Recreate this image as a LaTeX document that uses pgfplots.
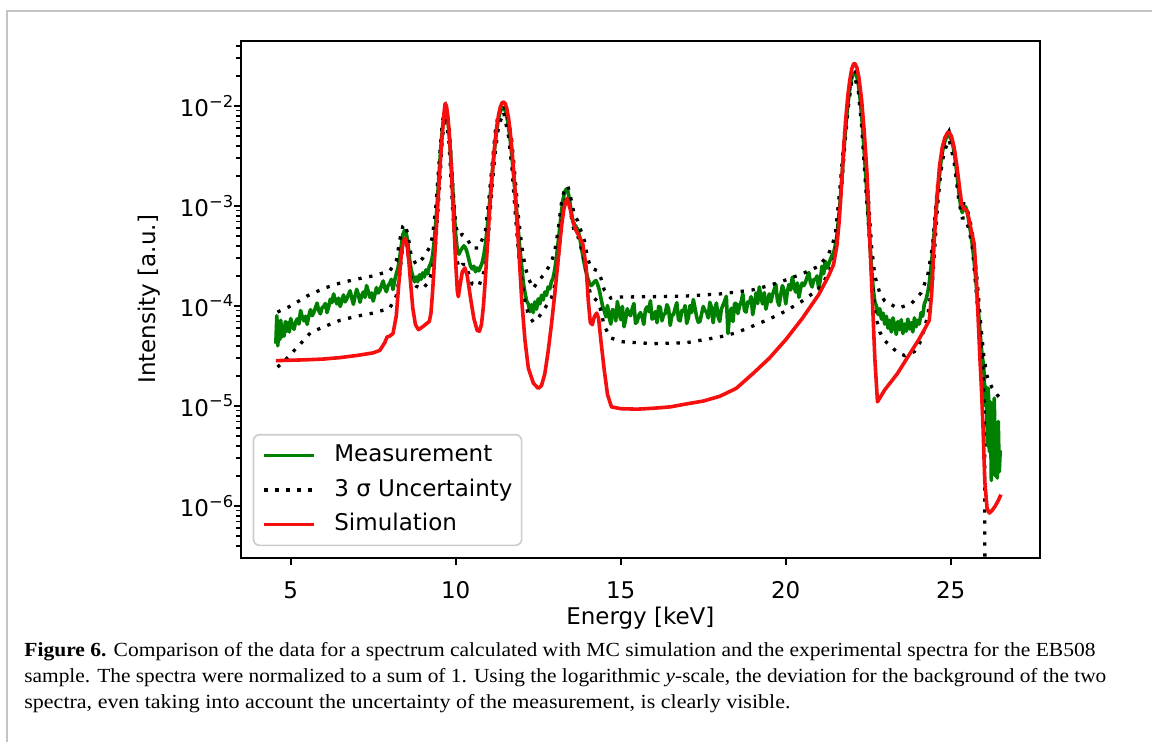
\documentclass[border=0pt]{standalone}
\usepackage{pgfplots}
\pgfplotsset{compat=1.18}
\usepackage{fontspec}
\usepackage{graphicx}
\setmainfont{DejaVu Sans}
\newfontfamily\capfont{Liberation Serif}
\definecolor{mgreen}{RGB}{0,128,0}
\definecolor{mred}{RGB}{245,15,15}
\definecolor{lgray}{RGB}{204,204,204}
\definecolor{fgray}{RGB}{195,195,195}
\newcommand{\ee}[1]{10\raisebox{0.42em}{\fontsize{8.2}{8.2}\selectfont\char"2212\relax #1}}
\begin{document}
\begin{tikzpicture}
\path[use as bounding box] (-120.35pt,-92pt) rectangle (455.65pt,279pt);
\draw[fgray, line width=1pt] (-116.7pt,-92pt) -- (-116.7pt,273.65pt) -- (455.65pt,273.65pt);
\begin{axis}[
  at={(0pt,0pt)}, anchor=south west,
  scale only axis, width=399.65pt, height=258.65pt,
  font=\fontsize{11.5}{13.8}\selectfont,
  ymode=log,
  xmin=3.485, xmax=27.705, ymin=3.02e-7, ymax=4.5e-2,
  xtick={5,10,15,20,25}, xticklabels={5,10,15,20,25},
  ytick={1e-6,1e-5,1e-4,1e-3,1e-2},
  yticklabels={\ee{6},\ee{5},\ee{4},\ee{3},\ee{2}},
  minor ytick={3e-7,4e-7,5e-7,6e-7,7e-7,8e-7,9e-7,2e-6,3e-6,4e-6,5e-6,6e-6,7e-6,8e-6,9e-6,2e-5,3e-5,4e-5,5e-5,6e-5,7e-5,8e-5,9e-5,2e-4,3e-4,4e-4,5e-4,6e-4,7e-4,8e-4,9e-4,2e-3,3e-3,4e-3,5e-3,6e-3,7e-3,8e-3,9e-3,2e-2,3e-2,4e-2},
  tick pos=left, tick align=outside,
  major tick length=3.5pt, minor tick length=2.2pt,
  every tick/.style={black, line width=0.9pt},
  axis line style={line width=0.9pt},
  xticklabel style={anchor=base, inner sep=0pt, yshift=-16.85pt},
  yticklabel style={anchor=east, inner sep=0pt},
  every axis x label/.style={at={(rel axis cs:0.5,0)}, yshift=-33.4pt, anchor=base},
  every axis y label/.style={at={(rel axis cs:0,0.5)}, xshift=-42.35pt, rotate=90, anchor=base},
  xlabel={Energy [keV]}, ylabel={Intensity [a.u.]},
  legend cell align=left,
  legend image code/.code={\draw[#1] (0pt,0pt) -- (25pt,0pt);},
  legend style={at={(rel axis cs:0.015,0.023)}, anchor=south west,
    draw=lgray, line width=0.8pt, rounded corners=3pt, fill=white, fill opacity=0.8, text opacity=1, draw opacity=1,
    inner xsep=4.5pt, inner ysep=5pt, column sep=9.15pt, row sep=6.6pt,
    nodes={inner sep=0pt, text height=8.4pt, text depth=2.3pt},
    font=\fontsize{11.5}{13.8}\selectfont},
]
\addplot[mgreen, line width=1.8pt, line join=round] coordinates {
(4.55,4.2e-5) (4.58,8.0e-5) (4.61,4.0e-5) (4.64,6.6e-5) (4.67,4.6e-5) (4.70,7.2e-5) (4.73,4.9e-5) (4.76,6.3e-5) (4.80,5.0e-5) (4.84,7.0e-5) (4.88,5.6e-5) (4.92,6.8e-5) (4.96,5.5e-5)
(5.0,7.5e-5) (5.05,6.3e-5) (5.1,5.85e-5) (5.15,6.9e-5) (5.2,7.45e-5) (5.25,6.6e-5) (5.3,9.0e-5) (5.35,7.8e-5) (5.4,7.1e-5) (5.45,7.9e-5) (5.5,6.55e-5) (5.55,8.0e-5) (5.6,9.2e-5) (5.65,8.0e-5) (5.7,8.6e-5) (5.75,9.6e-5) (5.8,1.07e-4) (5.85,9.0e-5) (5.9,8.35e-5) (5.95,9.6e-5) (6.0,9.9e-5) (6.05,1.06e-4) (6.1,8.6e-5) (6.15,9.8e-5) (6.2,1.17e-4) (6.25,1.08e-4) (6.3,1.32e-4) (6.35,1.15e-4) (6.4,1.05e-4) (6.45,1.2e-4) (6.5,9.9e-5) (6.55,1.12e-4) (6.6,1.29e-4) (6.65,1.1e-4) (6.7,1.18e-4) (6.75,1.3e-4) (6.8,1.42e-4) (6.85,1.2e-4) (6.9,1.04e-4) (6.95,1.25e-4) (7.0,1.47e-4) (7.05,1.3e-4) (7.1,1.09e-4) (7.15,1.27e-4) (7.2,1.38e-4) (7.25,1.22e-4) (7.3,1.6e-4) (7.35,1.4e-4) (7.4,1.22e-4) (7.45,1.35e-4) (7.5,1.12e-4) (7.55,1.3e-4) (7.6,1.53e-4) (7.65,1.35e-4) (7.7,1.43e-4) (7.75,1.6e-4) (7.8,1.78e-4) (7.85,1.52e-4) (7.9,1.39e-4) (7.95,1.6e-4) (8.0,1.68e-4) (8.05,1.85e-4) (8.1,1.46e-4) (8.15,1.8e-4) (8.2,2.1e-4)
(8.25,2.4e-4) (8.3,3.0e-4) (8.35,4.0e-4) (8.4,5.2e-4) (8.45,5.7e-4) (8.5,5.4e-4) (8.55,4.3e-4) (8.6,3.0e-4) (8.65,2.3e-4) (8.7,2.0e-4) (8.75,1.75e-4) (8.8,1.95e-4) (8.85,1.75e-4) (8.9,2.05e-4) (8.95,1.85e-4) (9.0,2.15e-4) (9.05,1.95e-4) (9.1,2.3e-4) (9.15,2.1e-4) (9.2,2.5e-4) (9.25,2.7e-4) (9.3,3.2e-4) (9.35,4.5e-4) (9.4,7.0e-4) (9.45,1.2e-3) (9.5,2.2e-3) (9.55,3.9e-3) (9.6,6.0e-3) (9.65,8.3e-3) (9.7,9.0e-3) (9.75,7.8e-3) (9.8,5.4e-3) (9.85,3.2e-3) (9.9,1.7e-3) (9.95,9.0e-4) (10.0,5.2e-4) (10.05,3.6e-4) (10.1,3.3e-4) (10.15,3.6e-4) (10.2,3.8e-4) (10.25,4.0e-4) (10.3,3.8e-4) (10.35,3.4e-4) (10.4,2.9e-4) (10.45,2.5e-4) (10.5,2.35e-4) (10.55,2.5e-4) (10.6,2.2e-4) (10.65,2.4e-4) (10.7,2.25e-4) (10.75,2.45e-4) (10.8,2.7e-4) (10.85,3.2e-4) (10.9,4.1e-4) (10.95,5.8e-4) (11.0,8.5e-4) (11.05,1.3e-3) (11.1,2.0e-3) (11.15,3.0e-3) (11.2,4.4e-3) (11.25,6.0e-3) (11.3,7.6e-3) (11.35,8.8e-3) (11.4,9.5e-3) (11.45,9.6e-3) (11.5,9.0e-3) (11.55,7.8e-3) (11.6,6.2e-3) (11.65,4.6e-3) (11.7,3.2e-3) (11.75,2.1e-3) (11.8,1.35e-3) (11.85,8.5e-4) (11.9,5.5e-4) (11.95,3.6e-4) (12.0,2.5e-4) (12.05,1.7e-4) (12.1,1.35e-4) (12.15,1.12e-4) (12.2,1.05e-4) (12.25,8.8e-5) (12.3,1.03e-4) (12.35,8.6e-5) (12.4,1.1e-4) (12.45,9.3e-5) (12.5,1.18e-4) (12.55,1.05e-4) (12.6,1.28e-4) (12.65,1.15e-4) (12.7,1.38e-4) (12.75,1.28e-4) (12.8,1.55e-4) (12.85,1.48e-4) (12.9,1.75e-4) (12.95,1.9e-4) (13.0,2.3e-4) (13.05,3.0e-4) (13.1,4.2e-4) (13.15,6.0e-4) (13.2,8.5e-4) (13.25,1.15e-3) (13.3,1.38e-3) (13.35,1.48e-3) (13.4,1.4e-3) (13.45,1.15e-3) (13.5,8.8e-4) (13.55,7.2e-4) (13.6,6.5e-4) (13.65,6.2e-4) (13.7,5.8e-4) (13.75,5.0e-4) (13.8,4.0e-4) (13.85,3.2e-4) (13.9,2.6e-4) (13.95,2.2e-4) (14.0,1.9e-4) (14.05,1.7e-4) (14.1,1.6e-4) (14.15,1.65e-4) (14.2,1.75e-4) (14.25,1.8e-4) (14.3,1.65e-4) (14.35,1.45e-4) (14.4,1.2e-4) (14.45,1.0e-4) (14.5,9.0e-5) (14.55,7.8e-5)
(14.6,1.01e-4) (14.65,7.7e-5) (14.7,6.6e-5) (14.75,9.2e-5) (14.8,9.0e-5) (14.85,7.1e-5) (14.9,1.11e-4) (14.95,8.8e-5) (15.0,7.3e-5) (15.05,9.9e-5) (15.1,6.2e-5) (15.15,7.4e-5) (15.2,9.4e-5) (15.25,8.4e-5) (15.3,8.0e-5) (15.35,9.4e-5) (15.4,1.06e-4) (15.45,6.7e-5) (15.5,7.0e-5) (15.55,8.1e-5) (15.6,8.6e-5) (15.65,7.7e-5) (15.7,6.55e-5) (15.75,9.2e-5) (15.8,9.8e-5) (15.85,8.8e-5) (15.9,1.13e-4) (15.95,7.4e-5) (16.0,7.6e-5) (16.05,8.8e-5) (16.1,6.8e-5) (16.15,9.9e-5) (16.2,9.7e-5) (16.25,7.1e-5) (16.3,8.2e-5) (16.35,8.4e-5) (16.4,1.03e-4) (16.45,9.4e-5) (16.5,6.4e-5) (16.55,8.1e-5)
(16.6,8.2e-5) (16.65,9.5e-5) (16.7,1.08e-4) (16.75,7.3e-5) (16.8,7.1e-5) (16.85,9.0e-5) (16.9,8.8e-5) (16.95,1.01e-4) (17.0,6.7e-5) (17.05,7.6e-5) (17.1,1.01e-4) (17.15,8.6e-5) (17.2,1.16e-4) (17.25,9.6e-5) (17.3,7.8e-5) (17.35,6.9e-5) (17.4,7.0e-5) (17.45,8.3e-5) (17.5,9.9e-5) (17.55,9.0e-5)
(17.6,8.7e-5) (17.65,7.6e-5) (17.7,1.09e-4) (17.75,9.7e-5) (17.8,6.8e-5) (17.85,9.1e-5) (17.9,1.07e-4) (17.95,7.8e-5) (18.0,7.0e-5) (18.05,9.3e-5)
(18.1,1.02e-4) (18.15,1.12e-4) (18.2,1.25e-4) (18.25,5.3e-5) (18.3,8.3e-5) (18.35,9.5e-5) (18.4,7.0e-5) (18.45,1.06e-4) (18.5,1.06e-4) (18.55,8.4e-5)
(18.6,1.0e-4) (18.65,1.1e-4) (18.7,1.32e-4) (18.75,9.0e-5) (18.8,8.7e-5) (18.85,1.1e-4) (18.9,1.07e-4) (18.95,1.24e-4) (19.0,8.2e-5) (19.05,1.02e-4)
(19.1,1.35e-4) (19.15,1.06e-4) (19.2,1.55e-4) (19.25,1.21e-4) (19.3,1.05e-4) (19.35,1.36e-4) (19.4,9.3e-5) (19.45,1.12e-4) (19.5,1.32e-4) (19.55,1.1e-4)
(19.6,1.3e-4) (19.65,1.45e-4) (19.7,1.64e-4) (19.75,1.13e-4) (19.8,1.01e-4) (19.85,1.3e-4) (19.9,1.6e-4) (19.95,1.42e-4) (20.0,1.05e-4) (20.05,1.4e-4)
(20.1,1.64e-4) (20.15,1.45e-4) (20.2,1.94e-4) (20.25,1.6e-4) (20.3,1.38e-4) (20.35,1.7e-4) (20.4,1.22e-4) (20.45,1.5e-4) (20.5,1.7e-4) (20.55,1.6e-4)
(20.6,1.73e-4) (20.65,1.95e-4) (20.7,2.16e-4) (20.75,1.7e-4) (20.8,1.55e-4) (20.85,1.85e-4) (20.9,1.84e-4) (20.95,2.0e-4) (21.0,1.48e-4) (21.05,1.85e-4)
(21.1,2.5e-4) (21.15,2.1e-4) (21.2,2.8e-4) (21.25,2.4e-4) (21.3,2.6e-4) (21.35,2.9e-4)
(21.4,3.2e-4) (21.45,3.4e-4) (21.5,4.0e-4) (21.55,5.0e-4) (21.6,7.5e-4) (21.65,1.1e-3) (21.7,1.9e-3) (21.75,3.2e-3) (21.8,5.2e-3) (21.85,8.0e-3) (21.9,1.15e-2) (21.95,1.55e-2) (22.0,1.9e-2) (22.05,2.1e-2) (22.1,2.15e-2) (22.15,2.0e-2) (22.2,1.65e-2) (22.25,1.2e-2) (22.3,8.0e-3) (22.35,4.8e-3) (22.4,2.7e-3) (22.45,1.5e-3) (22.5,8.0e-4) (22.55,4.3e-4) (22.6,2.4e-4) (22.65,1.5e-4) (22.7,1.1e-4)
(22.75,1.0e-4) (22.8,8.2e-5) (22.85,9.4e-5) (22.9,7.4e-5) (22.95,8.5e-5) (23.0,6.6e-5) (23.05,7.9e-5) (23.1,6.0e-5) (23.15,7.2e-5) (23.2,5.5e-5) (23.25,7.6e-5) (23.3,6.4e-5) (23.35,5.2e-5) (23.4,7.0e-5) (23.45,5.8e-5) (23.5,7.3e-5) (23.55,5.3e-5) (23.6,6.6e-5) (23.65,5.6e-5) (23.7,7.4e-5) (23.75,5.9e-5) (23.8,6.8e-5) (23.85,5.5e-5) (23.9,7.6e-5) (23.95,6.2e-5) (24.0,7.2e-5) (24.05,6.6e-5) (24.1,8.6e-5) (24.15,7.9e-5) (24.2,1.05e-4) (24.25,1.15e-4) (24.3,1.35e-4) (24.35,1.7e-4) (24.4,2.4e-4) (24.45,3.5e-4) (24.5,5.5e-4) (24.55,8.5e-4) (24.6,1.3e-3) (24.65,1.9e-3) (24.7,2.7e-3) (24.75,3.5e-3) (24.8,4.2e-3) (24.85,4.7e-3) (24.9,5.0e-3) (24.95,5.0e-3) (25.0,4.8e-3) (25.05,4.3e-3) (25.1,3.5e-3) (25.15,2.7e-3) (25.2,1.9e-3) (25.25,1.35e-3) (25.3,1.0e-3) (25.35,8.6e-4) (25.4,9.5e-4) (25.45,9.8e-4) (25.5,8.8e-4) (25.55,7.0e-4) (25.6,5.5e-4) (25.65,4.2e-4) (25.7,3.0e-4) (25.75,2.0e-4) (25.8,1.3e-4) (25.85,8.0e-5) (25.9,5.0e-5) (25.95,3.2e-5) (26.0,2.5e-5) (26.05,1.0e-5) (26.08,1.55e-5) (26.11,4.0e-6) (26.14,1.5e-5) (26.17,3.5e-6) (26.2,1.1e-5) (26.23,1.8e-6) (26.26,8.0e-6) (26.29,3.0e-6) (26.32,1.2e-5) (26.35,2.0e-6) (26.38,6.5e-6) (26.41,1.9e-6) (26.44,7.0e-6) (26.47,2.2e-6) (26.5,3.6e-6)
};
\addlegendentry{Measurement}
\addplot[black, line width=1.65pt, dash pattern=on 1.65pt off 3.85pt] coordinates {
(4.6,8.7e-5) (5.0,1.0e-4) (5.5,1.26e-4) (6.0,1.5e-4) (6.5,1.7e-4) (7.0,1.86e-4) (7.5,2.0e-4) (8.0,2.24e-4) (8.2,2.8e-4) (8.3,4.5e-4) (8.4,6.3e-4) (8.46,6.6e-4) (8.55,5.2e-4) (8.65,3.2e-4) (8.8,2.6e-4) (9.0,3.0e-4) (9.2,3.8e-4) (9.3,5.0e-4) (9.4,1.0e-3) (9.5,2.8e-3) (9.6,7.1e-3) (9.7,9.5e-3) (9.8,6.3e-3) (9.9,1.8e-3) (10.0,6.3e-4) (10.1,5.0e-4) (10.2,5.2e-4) (10.3,5.0e-4) (10.5,3.8e-4) (10.7,3.8e-4) (10.9,5.6e-4) (11.0,1.12e-3) (11.1,2.5e-3) (11.2,5.6e-3) (11.3,8.6e-3) (11.45,1.05e-2) (11.6,7.2e-3) (11.7,4.5e-3) (11.8,1.9e-3) (11.9,7.9e-4) (12.0,4.0e-4) (12.1,2.5e-4) (12.2,1.9e-4) (12.35,1.5e-4) (12.5,1.78e-4) (12.7,2.1e-4) (12.9,2.75e-4) (13.0,3.5e-4) (13.1,5.6e-4) (13.2,1.05e-3) (13.3,1.5e-3) (13.4,1.58e-3) (13.5,1.15e-3) (13.6,8.0e-4) (13.7,7.1e-4) (13.8,5.6e-4) (13.9,4.5e-4) (14.0,3.0e-4) (14.1,2.4e-4) (14.3,2.25e-4) (14.4,1.9e-4) (14.5,1.45e-4) (14.7,1.2e-4) (15.0,1.23e-4) (16.0,1.24e-4) (17.0,1.26e-4) (17.5,1.29e-4) (18.0,1.32e-4) (18.5,1.38e-4) (19.0,1.45e-4) (19.5,1.6e-4) (20.0,1.82e-4) (20.5,2.1e-4) (21.0,2.5e-4) (21.3,3.3e-4) (21.5,5.0e-4) (21.65,1.6e-3) (21.8,6.3e-3) (21.9,1.3e-2) (22.0,2.1e-2) (22.1,2.3e-2) (22.2,1.8e-2) (22.3,9.5e-3) (22.4,3.5e-3) (22.5,1.26e-3) (22.6,4.0e-4) (22.7,2.0e-4) (22.85,1.35e-4) (23.0,1.12e-4) (23.4,9.5e-5) (23.8,1.05e-4) (24.1,1.35e-4) (24.3,2.0e-4) (24.45,4.0e-4) (24.6,1.6e-3) (24.7,3.0e-3) (24.8,4.5e-3) (24.95,5.6e-3) (25.1,3.8e-3) (25.25,1.5e-3) (25.35,1.05e-3) (25.45,1.05e-3) (25.55,8.0e-4) (25.65,5.6e-4) (25.8,1.8e-4) (25.9,7.1e-5) (26.0,3.2e-5) (26.1,2.0e-5) (26.24,1.55e-5) (26.4,1.3e-5) (26.55,1.15e-5)
};
\addlegendentry{3 σ Uncertainty}
\addplot[black, line width=1.65pt, dash pattern=on 1.65pt off 3.85pt, forget plot] coordinates {
(4.6,2.45e-5) (4.8,2.8e-5) (5.0,3.3e-5) (5.3,4.2e-5) (5.6,5.4e-5) (6.0,6.2e-5) (6.5,7.2e-5) (7.0,7.9e-5) (7.5,8.5e-5) (8.0,9.5e-5) (8.2,1.26e-4) (8.3,2.0e-4) (8.4,4.2e-4) (8.46,4.8e-4) (8.55,3.5e-4) (8.65,1.9e-4) (8.8,1.58e-4) (9.0,1.48e-4) (9.2,1.78e-4) (9.3,2.4e-4) (9.4,4.5e-4) (9.5,1.4e-3) (9.6,5.0e-3) (9.7,7.9e-3) (9.8,4.2e-3) (9.9,1.0e-3) (10.0,3.2e-4) (10.1,2.4e-4) (10.2,2.6e-4) (10.3,2.6e-4) (10.5,1.66e-4) (10.7,1.58e-4) (10.9,2.4e-4) (11.0,5.6e-4) (11.1,1.5e-3) (11.2,3.5e-3) (11.3,6.3e-3) (11.45,8.7e-3) (11.6,5.0e-3) (11.7,2.5e-3) (11.8,8.9e-4) (11.9,3.5e-4) (12.0,1.8e-4) (12.1,1.1e-4) (12.2,8.3e-5) (12.35,6.9e-5) (12.5,7.6e-5) (12.7,9.5e-5) (12.9,1.2e-4) (13.0,1.6e-4) (13.1,2.8e-4) (13.2,6.3e-4) (13.3,1.12e-3) (13.4,1.2e-3) (13.5,7.9e-4) (13.6,5.3e-4) (13.7,5.0e-4) (13.8,3.8e-4) (13.9,2.8e-4) (14.0,1.7e-4) (14.1,1.26e-4) (14.3,1.12e-4) (14.4,9.0e-5) (14.5,6.3e-5) (14.7,4.8e-5) (15.0,4.4e-5) (16.0,4.2e-5) (17.0,4.3e-5) (18.0,4.9e-5) (18.5,5.4e-5) (19.0,6.3e-5) (19.5,7.4e-5) (20.0,8.9e-5) (20.5,1.12e-4) (21.0,1.48e-4) (21.3,2.1e-4) (21.5,3.2e-4) (21.65,1.0e-3) (21.8,4.5e-3) (21.9,1.0e-2) (22.0,1.78e-2) (22.1,1.9e-2) (22.2,1.4e-2) (22.3,6.3e-3) (22.4,2.0e-3) (22.5,7.1e-4) (22.6,2.2e-4) (22.7,8.5e-5) (22.85,5.5e-5) (23.0,4.5e-5) (23.4,3.4e-5) (23.6,3.2e-5) (23.9,3.5e-5) (24.1,4.5e-5) (24.3,7.9e-5) (24.45,1.8e-4) (24.6,1.0e-3) (24.7,2.2e-3) (24.8,3.5e-3) (24.95,4.6e-3) (25.1,2.8e-3) (25.25,1.1e-3) (25.35,7.6e-4) (25.45,7.6e-4) (25.55,5.8e-4) (25.65,4.0e-4) (25.8,1.1e-4) (25.9,4.5e-5) (25.97,2.5e-5) (26.01,1.2e-5) (26.03,3.0e-6) (26.04,1e-8)
};
\addplot[mred, line width=1.8pt, line join=round] coordinates {
(4.55,2.84e-5) (5.0,2.87e-5) (5.5,2.9e-5) (6.0,2.95e-5) (6.5,3.05e-5) (7.0,3.2e-5) (7.5,3.4e-5) (7.7,3.6e-5) (7.85,4.3e-5) (7.92,4.9e-5) (8.0,5.0e-5) (8.1,5.3e-5) (8.15,6.5e-5) (8.2,8.0e-5) (8.25,1.3e-4) (8.3,2.1e-4) (8.35,3.2e-4) (8.4,4.2e-4) (8.46,4.75e-4) (8.52,4.2e-4) (8.58,2.8e-4) (8.64,1.6e-4) (8.7,9.5e-5) (8.78,6.5e-5) (8.87,5.8e-5) (9.0,6.2e-5) (9.1,6.6e-5) (9.2,7.0e-5) (9.25,8.5e-5) (9.3,1.4e-4) (9.35,2.6e-4) (9.4,5.0e-4) (9.45,9.5e-4) (9.5,1.8e-3) (9.55,3.3e-3) (9.6,5.6e-3) (9.65,8.8e-3) (9.68,1.06e-2) (9.72,1.0e-2) (9.76,8.0e-3) (9.8,5.5e-3) (9.85,3.0e-3) (9.9,1.4e-3) (9.95,6.0e-4) (10.0,2.7e-4) (10.05,1.4e-4) (10.08,1.24e-4) (10.13,1.6e-4) (10.2,2.2e-4) (10.28,2.4e-4) (10.35,2.0e-4) (10.45,1.2e-4) (10.55,7.5e-5) (10.65,5.7e-5) (10.72,5.6e-5) (10.78,6.5e-5) (10.84,1.0e-4) (10.9,1.9e-4) (10.95,3.5e-4) (11.0,6.5e-4) (11.05,1.15e-3) (11.1,1.95e-3) (11.15,3.1e-3) (11.2,4.6e-3) (11.25,6.4e-3) (11.3,8.2e-3) (11.35,9.7e-3) (11.4,1.07e-2) (11.45,1.1e-2) (11.5,1.06e-2) (11.55,9.4e-3) (11.6,7.6e-3) (11.65,5.6e-3) (11.7,3.8e-3) (11.75,2.4e-3) (11.8,1.4e-3) (11.85,7.8e-4) (11.9,4.2e-4) (11.95,2.2e-4) (12.0,1.15e-4) (12.1,4.5e-5) (12.2,2.4e-5) (12.35,1.7e-5) (12.5,1.5e-5) (12.6,1.6e-5) (12.7,2.1e-5) (12.8,3.5e-5) (12.9,6.5e-5) (13.0,1.3e-4) (13.1,2.8e-4) (13.2,6.0e-4) (13.28,9.5e-4) (13.37,1.19e-3) (13.45,1.0e-3) (13.55,7.0e-4) (13.64,5.75e-4) (13.75,4.9e-4) (13.85,4.2e-4) (13.95,2.5e-4) (14.02,1.1e-4) (14.08,6.8e-5) (14.14,6.5e-5) (14.2,7.8e-5) (14.27,8.5e-5) (14.33,7.5e-5) (14.4,4.5e-5) (14.5,2.3e-5) (14.6,1.3e-5) (14.72,9.8e-6) (15.0,9.4e-6) (15.5,9.3e-6) (16.0,9.5e-6) (16.5,9.8e-6) (17.0,1.05e-5) (17.5,1.12e-5) (18.0,1.25e-5) (18.5,1.5e-5) (19.0,2.1e-5) (19.5,3.0e-5) (20.0,4.6e-5) (20.5,7.5e-5) (21.0,1.3e-4) (21.3,2.0e-4) (21.45,2.6e-4) (21.55,4.0e-4) (21.62,7.0e-4) (21.7,1.8e-3) (21.76,4.0e-3) (21.82,7.5e-3) (21.88,1.25e-2) (21.94,1.8e-2) (22.0,2.35e-2) (22.06,2.65e-2) (22.1,2.65e-2) (22.16,2.4e-2) (22.22,1.9e-2) (22.3,1.15e-2) (22.38,5.5e-3) (22.46,2.2e-3) (22.52,8.0e-4) (22.58,2.5e-4) (22.64,9.0e-5) (22.7,3.0e-5) (22.78,1.1e-5) (22.85,1.2e-5) (23.0,1.45e-5) (23.38,2.1e-5) (23.7,3.1e-5) (24.03,4.6e-5) (24.2,5.8e-5) (24.35,7.2e-5) (24.42,1.3e-4) (24.5,4.5e-4) (24.58,1.2e-3) (24.66,2.5e-3) (24.74,3.8e-3) (24.82,4.8e-3) (24.9,5.4e-3) (24.95,5.5e-3) (25.02,5.0e-3) (25.1,3.9e-3) (25.18,2.6e-3) (25.26,1.6e-3) (25.33,1.05e-3) (25.4,9.3e-4) (25.48,9.1e-4) (25.55,7.5e-4) (25.63,5.5e-4) (25.71,4.2e-4) (25.77,2.0e-4) (25.82,9.0e-5) (25.88,3.2e-5) (25.93,1.5e-5) (25.98,6.0e-6) (26.03,1.8e-6) (26.1,9.5e-7) (26.17,8.5e-7) (26.25,9.0e-7) (26.35,1.0e-6) (26.45,1.15e-6) (26.52,1.3e-6)
};
\addlegendentry{Simulation}
\end{axis}
\node[anchor=base west, inner sep=0pt] at (-108.35pt,-49.5pt) {\resizebox{535.5pt}{\height}{\capfont\fontsize{10}{11}\selectfont\textbf{Figure 6.} Comparison of the data for a spectrum calculated with MC simulation and the experimental spectra for the EB508}};
\node[anchor=base west, inner sep=0pt] at (-108.35pt,-62.5pt) {\resizebox{541pt}{\height}{\capfont\fontsize{10}{11}\selectfont sample. The spectra were normalized to a sum of 1. Using the logarithmic \textit{y}-scale, the deviation for the background of the two}};
\node[anchor=base west, inner sep=0pt] at (-108.35pt,-75.5pt) {\resizebox{383pt}{\height}{\capfont\fontsize{10}{11}\selectfont spectra, even taking into account the uncertainty of the measurement, is clearly visible.}};
\end{tikzpicture}
\end{document}
